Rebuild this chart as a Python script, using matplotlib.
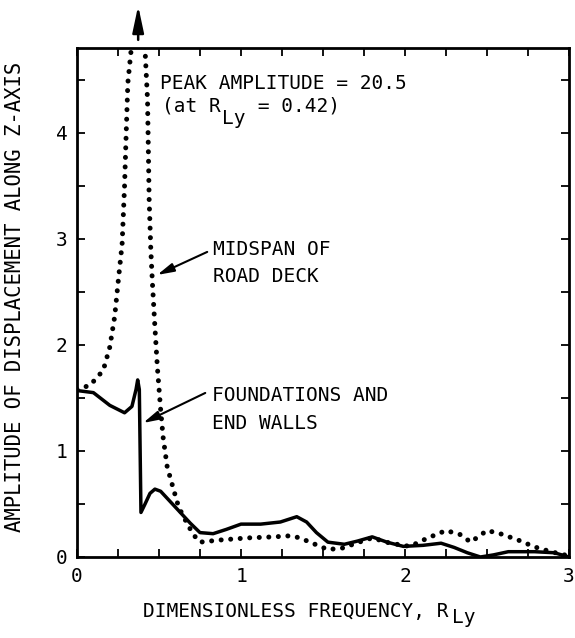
import matplotlib
matplotlib.use("Agg")
import matplotlib.pyplot as plt
from matplotlib.ticker import MultipleLocator

# ---- data ----
mid_x = [0.0, 0.08, 0.16, 0.20, 0.23, 0.25, 0.275, 0.29, 0.30, 0.31, 0.33, 0.37,
         0.415, 0.43, 0.435, 0.44, 0.45, 0.46, 0.475, 0.49, 0.51, 0.525, 0.55,
         0.59, 0.62, 0.67, 0.71, 0.75, 0.87, 1.04, 1.20, 1.30, 1.36, 1.42, 1.53,
         1.62, 1.72, 1.80, 1.91, 2.03, 2.14, 2.25, 2.34, 2.40, 2.50, 2.58, 2.69,
         2.79, 2.89, 3.0]
mid_y = [1.58, 1.62, 1.76, 1.98, 2.27, 2.58, 2.95, 3.5, 4.0, 4.47, 4.78, 20.5,
         4.78, 4.31, 3.84, 3.37, 2.9, 2.58, 2.17, 1.79, 1.39, 1.13, 0.85,
         0.63, 0.47, 0.32, 0.21, 0.14, 0.16, 0.18, 0.19, 0.20, 0.18, 0.14, 0.07,
         0.085, 0.14, 0.18, 0.13, 0.10, 0.18, 0.25, 0.21, 0.14, 0.25, 0.22, 0.16,
         0.095, 0.05, 0.01]

fnd_x = [0.0, 0.1, 0.2, 0.29, 0.335, 0.36, 0.37, 0.38, 0.385, 0.39, 0.415, 0.445,
         0.475, 0.51, 0.57, 0.63, 0.69, 0.75, 0.83, 0.91, 1.0, 1.12, 1.24, 1.34,
         1.40, 1.46, 1.53, 1.63, 1.71, 1.80, 1.89, 1.99, 2.11, 2.22, 2.30, 2.38,
         2.46, 2.54, 2.63, 2.79, 2.91, 3.0]
fnd_y = [1.57, 1.55, 1.43, 1.36, 1.42, 1.58, 1.67, 1.58, 1.0, 0.42, 0.5, 0.6,
         0.64, 0.62, 0.52, 0.42, 0.32, 0.23, 0.22, 0.26, 0.31, 0.31, 0.33, 0.38,
         0.33, 0.23, 0.14, 0.12, 0.15, 0.19, 0.14, 0.10, 0.11, 0.13, 0.09, 0.04,
         0.0, 0.02, 0.05, 0.05, 0.04, 0.0]

x_ticks = [0, 1, 2, 3]
y_ticks = [0, 1, 2, 3, 4]
x_ticklabels = ["0", "1", "2", "3"]
y_ticklabels = ["0", "1", "2", "3", "4"]

FONT = "DejaVu Sans Mono"
plt.rcParams["font.family"] = [FONT]

fig = plt.figure(figsize=(5.75, 6.38), dpi=100)
W, H = 575, 638
ax = fig.add_axes([77 / W, 1 - 557 / H, (569 - 77) / W, (557 - 48) / H])

ax.plot(mid_x, mid_y, color="black", linewidth=3.6,
        linestyle=(0, (0.01, 1.9)), dash_capstyle="round")
ax.plot(fnd_x, fnd_y, color="black", linewidth=2.5, solid_joinstyle="round")

ax.set_xlim(0, 3)
ax.set_ylim(0, 4.8)
ax.set_xticks(x_ticks)
ax.set_xticklabels(x_ticklabels)
ax.set_yticks(y_ticks)
ax.set_yticklabels(y_ticklabels)
ax.xaxis.set_minor_locator(MultipleLocator(0.25))
ax.yaxis.set_minor_locator(MultipleLocator(0.5))
ax.tick_params(which="both", direction="in", top=True, right=True,
               length=6, width=1.3, labelsize=14, pad=7)
for s in ax.spines.values():
    s.set_linewidth(2.0)

ax.set_ylabel("AMPLITUDE OF DISPLACEMENT ALONG Z-AXIS", fontsize=14.9)
ax.yaxis.set_label_coords(-0.106, 0.512)

# x label with subscript
fig.text(143 / W, 1 - 617 / H, "DIMENSIONLESS FREQUENCY, R", fontsize=14,
         ha="left", va="baseline")
fig.text(452 / W, 1 - 623 / H, "Ly", fontsize=14, ha="left", va="baseline")

# annotations
ax.text(0.507, 4.41, "PEAK AMPLITUDE = 20.5", fontsize=14, ha="left", va="baseline")
ax.text(0.519, 4.20, "(at R", fontsize=14, ha="left", va="baseline")
ax.text(0.519 + 60 / 163.7, 4.20 - 12 / 106, "Ly", fontsize=14, ha="left", va="baseline")
ax.text(0.519 + 84 / 163.7, 4.20, " = 0.42)", fontsize=14, ha="left", va="baseline")

ax.text(0.831, 2.85, "MIDSPAN OF", fontsize=14, ha="left", va="baseline")
ax.text(0.831, 2.595, "ROAD DECK", fontsize=14, ha="left", va="baseline")
ax.text(0.825, 1.472, "FOUNDATIONS AND", fontsize=14, ha="left", va="baseline")
ax.text(0.825, 1.208, "END WALLS", fontsize=14, ha="left", va="baseline")

arrow_kw = dict(arrowstyle="-|>,head_length=0.5,head_width=0.13",
                color="black", lw=1.5, mutation_scale=20, shrinkA=0, shrinkB=0)
ax.annotate("", xy=(0.489, 2.66), xytext=(0.794, 2.877), arrowprops=arrow_kw)
ax.annotate("", xy=(0.403, 1.264), xytext=(0.782, 1.547), arrowprops=arrow_kw)

# arrow above the plot marking the off-scale peak
ax.annotate("", xy=(0.373, 1.083), xycoords=("data", "axes fraction"),
            xytext=(0.373, 1.016), textcoords=("data", "axes fraction"),
            arrowprops=dict(arrowstyle="-|>,head_length=0.8,head_width=0.17",
                            color="black", lw=1.8, mutation_scale=20,
                            shrinkA=0, shrinkB=0),
            annotation_clip=False)

fig.savefig("out.png", dpi=100)
